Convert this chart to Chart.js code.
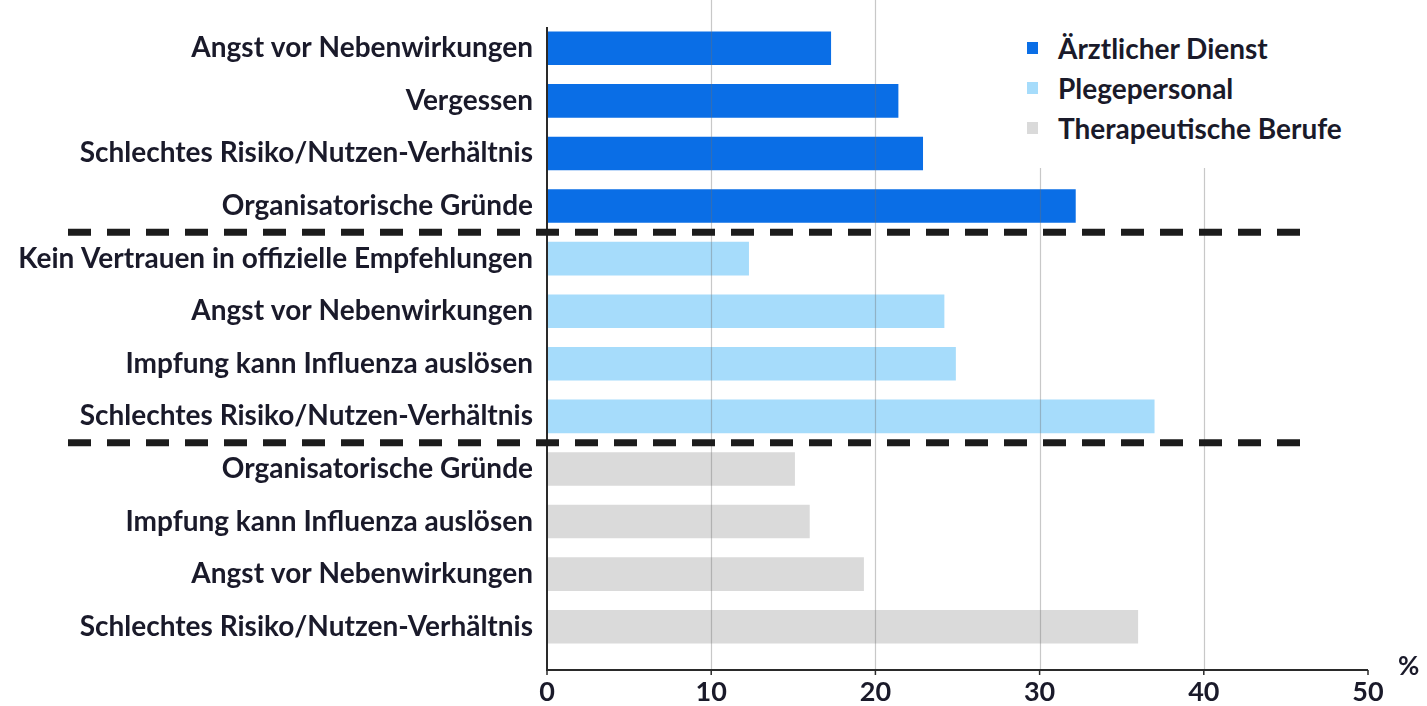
<!DOCTYPE html>
<html lang="de">
<head>
<meta charset="utf-8">
<title>Gründe gegen die Influenza-Impfung</title>
<script src="https://cdn.jsdelivr.net/npm/chart.js@4.4.1/dist/chart.umd.min.js"></script>
<style>
    body { margin: 0; background: #fff; }
    #wrap { position: relative; width: 1427px; height: 706px; }
    #legende {
        position: absolute; left: 1015px; top: 0; width: 370px; height: 168px;
        background: #fff; padding-top: 28px; box-sizing: border-box;
        font-family: Lato, sans-serif; font-weight: bold; font-size: 28px; color: #1a1a2a;
    }
    #legende div { height: 40px; line-height: 40px; position: relative; padding-left: 43px; white-space: nowrap; }
    #legende span { position: absolute; left: 12px; top: 14px; width: 11px; height: 12px; }
</style>
</head>
<body>
<div id="wrap">
    <canvas id="canvas_gruende" width="1427" height="706"></canvas>
    <div id="legende"></div>
</div>
<script>
// categories (top to bottom)
const kategorien = [
    "Angst vor Nebenwirkungen",
    "Vergessen",
    "Schlechtes Risiko/Nutzen-Verhältnis",
    "Organisatorische Gründe",
    "Kein Vertrauen in offizielle Empfehlungen",
    "Angst vor Nebenwirkungen",
    "Impfung kann Influenza auslösen",
    "Schlechtes Risiko/Nutzen-Verhältnis",
    "Organisatorische Gründe",
    "Impfung kann Influenza auslösen",
    "Angst vor Nebenwirkungen",
    "Schlechtes Risiko/Nutzen-Verhältnis"
];
const gruppen = ["Ärztlicher Dienst", "Plegepersonal", "Therapeutische Berufe"];
const couleurs = ["#0a6ee6", "#a6dcfb", "#dadada"];
// values in %
const aerztlich = [17.3, 21.4, 22.9, 32.2];
const pflege = [12.3, 24.2, 24.9, 37.0];
const therapie = [15.1, 16.0, 19.3, 36.0];
const ticks_x = [0, 10, 20, 30, 40, 50];

function serie(valeurs, debut) {
    let d = [];
    for (let i = 0; i < kategorien.length; i++) {
        d.push(i >= debut && i < debut + valeurs.length ? valeurs[i - debut] : null);
    }
    return d;
}

const police = "Lato, 'Open Sans', sans-serif";

// axes, grid, separators and unit drawn by hand
const decor = {
    id: 'decor',
    afterDatasetsDraw(chart) {
        const ctx = chart.ctx;
        const x = chart.scales.x, y = chart.scales.y;
        const x0 = x.getPixelForValue(0), x50 = x.getPixelForValue(50);
        const yAxe = chart.chartArea.bottom + 17;
        ctx.save();
        // grid
        ctx.strokeStyle = 'rgba(110,110,110,0.38)';
        ctx.lineWidth = 1.2;
        for (let t of ticks_x) {
            if (t === 0 || t === 50) continue;
            const px = Math.round(x.getPixelForValue(t)) + 0.5;
            ctx.beginPath(); ctx.moveTo(px, 0); ctx.lineTo(px, yAxe); ctx.stroke();
        }
        // axes
        ctx.strokeStyle = '#2a2a2a';
        ctx.lineWidth = 2;
        ctx.beginPath(); ctx.moveTo(x0, 27); ctx.lineTo(x0, yAxe); ctx.lineTo(x50, yAxe); ctx.stroke();
        ctx.lineWidth = 1.5;
        for (let t of ticks_x) {
            const px = x.getPixelForValue(t);
            ctx.beginPath(); ctx.moveTo(px, yAxe); ctx.lineTo(px, yAxe + 5); ctx.stroke();
        }
        // separators between groups
        ctx.strokeStyle = '#1c1c1c';
        ctx.lineWidth = 7;
        ctx.setLineDash([23, 16]);
        for (let s of [3.5, 7.5]) {
            const py = y.getPixelForValue(s);
            ctx.beginPath(); ctx.moveTo(68, py); ctx.lineTo(1303, py); ctx.stroke();
        }
        ctx.setLineDash([]);
        // unit
        ctx.fillStyle = '#1a1a2a';
        ctx.font = "bold 26px " + police;
        ctx.textAlign = 'left';
        ctx.textBaseline = 'middle';
        ctx.fillText('%', x50 + 30, yAxe - 3);
        ctx.restore();
    }
};

const chart_datas = {
    labels: kategorien,
    datasets: [
        { label: gruppen[0], data: serie(aerztlich, 0), backgroundColor: couleurs[0] },
        { label: gruppen[1], data: serie(pflege, 4), backgroundColor: couleurs[1] },
        { label: gruppen[2], data: serie(therapie, 8), backgroundColor: couleurs[2] }
    ]
};

const options = {
    indexAxis: 'y',
    responsive: false,
    animation: false,
    layout: { padding: { top: 22, right: 59, left: 0, bottom: 0 } },
    datasets: { bar: { grouped: false, categoryPercentage: 1, barPercentage: 0.64, borderWidth: 0 } },
    plugins: { legend: { display: false }, tooltip: { enabled: false } },
    scales: {
        x: {
            min: 0, max: 50,
            grid: { display: false, drawTicks: false },
            border: { display: false },
            ticks: { stepSize: 10, padding: 23, color: '#1a1a2a', font: { family: police, weight: 'bold', size: 27 } },
            afterFit(scale) { scale.height = 53; scale.paddingLeft = 0; scale.paddingRight = 0; }
        },
        y: {
            grid: { display: false, drawTicks: false },
            border: { display: false },
            ticks: { padding: 14, color: '#1a1a2a', font: { family: police, weight: 'bold', size: 28 } },
            afterFit(scale) { scale.width = 547; scale.paddingTop = 0; scale.paddingBottom = 0; }
        }
    }
};

const graph = new Chart(document.getElementById('canvas_gruende'), {
    type: 'bar',
    data: chart_datas,
    options: options,
    plugins: [decor]
});

// legend
const legende = document.getElementById('legende');
for (let i = 0; i < gruppen.length; i++) {
    const ligne = document.createElement('div');
    ligne.innerHTML = '<span style="background:' + couleurs[i] + '"></span>' + gruppen[i];
    legende.appendChild(ligne);
}
</script>
</body>
</html>
